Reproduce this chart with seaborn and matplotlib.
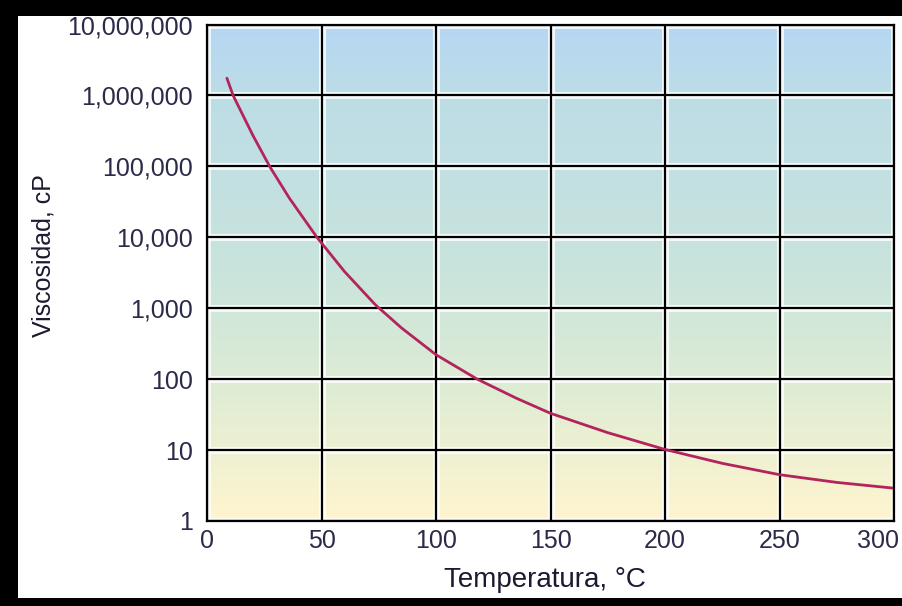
import numpy as np
import pandas as pd
import matplotlib
matplotlib.use("Agg")
import matplotlib.pyplot as plt
import matplotlib.ticker as mticker
import matplotlib.transforms as mtrans
from matplotlib.colors import LinearSegmentedColormap
from matplotlib.patches import Rectangle
import seaborn as sns

# Viscosity vs temperature
temperatura = [8.7, 11.4, 20, 27.5, 36, 48, 60, 73.5, 85, 100, 118, 135, 150, 175, 200, 225, 250, 275, 300]
viscosidad = [1.75e6, 1.0e6, 2.75e5, 9.8e4, 3.55e4, 1.0e4, 3300, 1120, 525, 221, 100, 54, 33,
              17.6, 10.2, 6.5, 4.5, 3.5, 2.9]
x_ticks = [0, 50, 100, 150, 200, 250, 300]
y_ticks = [1, 10, 100, 1000, 10000, 100000, 1000000, 10000000]

df = pd.DataFrame({"T": temperatura, "visc": viscosidad})

sns.set_style("white")
plt.rcParams["font.family"] = ["Liberation Sans", "DejaVu Sans"]

fig = plt.figure(figsize=(9.02, 6.06), dpi=100, facecolor="black")
# white card inside the black frame
fig.patches.append(Rectangle((18 / 902, 8 / 606), 1 - 18 / 902, 1 - 24 / 606,
                             transform=fig.transFigure, facecolor="white",
                             edgecolor="none", zorder=-10))

ax = fig.add_axes([207 / 902, 1 - 521 / 606, (894 - 207) / 902, (521 - 24.5) / 606])

# vertical background gradient: pale yellow at bottom -> light blue at top
cmap = LinearSegmentedColormap.from_list(
    "bg", [(0.0, "#fff5cf"), (0.25, "#e0edd4"), (0.5, "#c9e4dc"),
           (0.85, "#bddde6"), (1.0, "#b6d7f3")])
grad = np.linspace(0, 1, 256).reshape(-1, 1)
ax.imshow(grad, aspect="auto", cmap=cmap, origin="lower",
          extent=[0, 1, 0, 1], transform=ax.transAxes, zorder=0)

ax.set_yscale("log")
ax.set_xlim(0, 300)
ax.set_ylim(1, 1e7)

# grid: soft white halo under black lines
for xv in x_ticks:
    ax.axvline(xv, color="white", lw=5, alpha=0.8, zorder=1)
    ax.axvline(xv, color="black", lw=1.6, zorder=2)
for yv in y_ticks:
    ax.axhline(yv, color="white", lw=5, alpha=0.8, zorder=1)
    ax.axhline(yv, color="black", lw=1.6, zorder=2)

sns.lineplot(data=df, x="T", y="visc", ax=ax, color="#b3245c", lw=2.0, zorder=3)

ax.set_xticks(x_ticks)
ax.set_yticks(y_ticks)
ax.yaxis.set_major_formatter(mticker.FuncFormatter(lambda v, p: f"{int(round(v)):,}"))
ax.yaxis.set_minor_locator(mticker.NullLocator())
ax.tick_params(axis="both", length=0, labelsize=18, colors="#2b2a48")
ax.tick_params(axis="y", pad=10)
ax.tick_params(axis="x", pad=6)

# last x label sits inside the card, like the reference
last = ax.get_xticklabels()[-1]
last.set_transform(last.get_transform() + mtrans.ScaledTranslation(-16 / 100, 0, fig.dpi_scale_trans))

for s in ax.spines.values():
    s.set_color("black")
    s.set_linewidth(1.6)
    s.set_zorder(4)

ax.set_xlabel("Temperatura, °C", fontsize=20, color="#1c1a30")
ax.xaxis.set_label_coords(0.492, -0.093)
ax.set_ylabel("Viscosidad, cP", fontsize=18, color="#1c1a30")
ax.yaxis.set_label_coords(-0.221, 0.534)

fig.savefig("out.png", dpi=100, facecolor=fig.get_facecolor())
